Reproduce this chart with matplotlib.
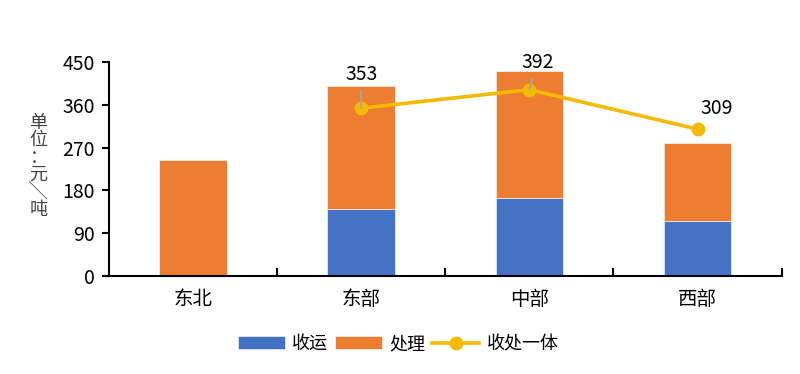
import numpy as np
import matplotlib.pyplot as plt
from matplotlib.ticker import FixedLocator

plt.rcParams['font.family'] = ['Noto Sans CJK SC', 'DejaVu Sans']

# data
regions = ['东北', '东部', '中部', '西部']
collect = [0, 142, 165, 115]        # 收运
treat = [243, 257, 267, 164]        # 处理
combined = [np.nan, 353, 392, 309]  # 收处一体
y_ticks = [0, 90, 180, 270, 360, 450]

blue = '#4472C4'
orange = '#ED7D31'
gold = '#F5BA00'

fig = plt.figure(figsize=(8, 3.74), dpi=100)
ax = fig.add_axes([0.136, 0.262, 0.841, 0.572])

x = np.arange(len(regions))
b1 = ax.bar(x, collect, width=0.4, color=blue, edgecolor='white', linewidth=0.4, label='收运')
b2 = ax.bar(x, treat, width=0.4, bottom=collect, color=orange, edgecolor='white', linewidth=0.4, label='处理')
ln, = ax.plot(x, combined, color=gold, linewidth=2.6, marker='o', markersize=9, label='收处一体')

# data labels; the two that were pushed up keep a grey leader line
offsets = {1: (0, 24), 2: (6, 19.5), 3: (14, 15)}
for i, (dx, dy) in offsets.items():
    props = None
    if i in (1, 2):
        props = dict(arrowstyle='-', color='#A6A6A6', lw=1.3, shrinkA=2, shrinkB=0)
    ax.annotate(str(combined[i]), (x[i], combined[i]), xytext=(dx, dy), textcoords='offset points',
                ha='center', va='center', fontsize=14, arrowprops=props, zorder=5)

ax.set_xlim(-0.5, 3.5)
ax.set_ylim(0, 450)
ax.set_yticks(y_ticks)
ax.set_xticks(x)
ax.set_xticklabels(regions, fontsize=14)
ax.xaxis.set_minor_locator(FixedLocator([0.5, 1.5, 2.5, 3.5]))
ax.tick_params(axis='x', which='major', length=0, pad=9)
ax.tick_params(axis='x', which='minor', direction='in', length=6, width=1.5)
ax.tick_params(axis='y', direction='out', length=5, width=1.5, labelsize=14, pad=5)

for s in ['top', 'right']:
    ax.spines[s].set_visible(False)
for s in ['left', 'bottom']:
    ax.spines[s].set_linewidth(1.5)

fig.text(0.048, 0.555, '单\n位\n：\n元\n╲\n吨', ha='center', va='center', fontsize=13,
         linespacing=0.95, color='#404040')

ax.legend([b1, b2, ln], ['收运', '处理', '收处一体'], loc='upper center', bbox_to_anchor=(0.43, -0.2),
          ncol=3, frameon=False, fontsize=13,
          handlelength=2.6, handleheight=0.7, columnspacing=0.4, handletextpad=0.4)

fig.savefig('out.png', dpi=100)
